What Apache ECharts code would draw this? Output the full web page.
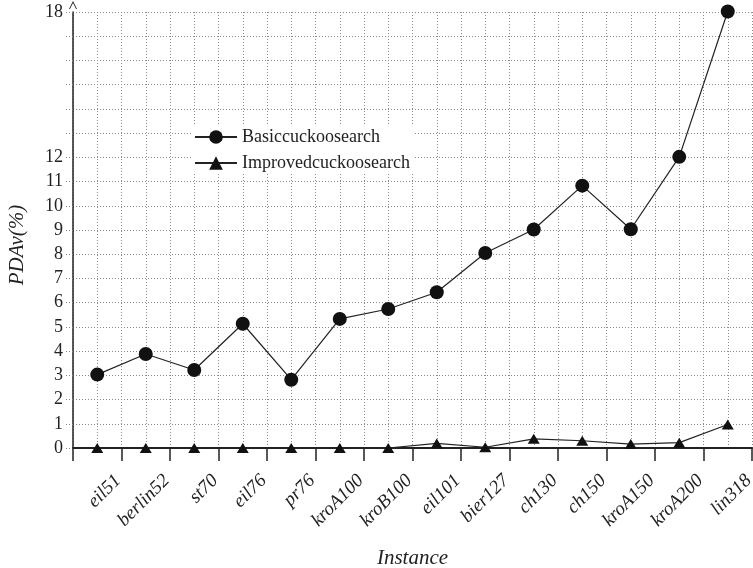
<!DOCTYPE html>
<html>
<head>
<meta charset="utf-8">
<script src="https://cdn.jsdelivr.net/npm/echarts@6/dist/echarts.min.js"></script>
<style>html,body{margin:0;padding:0;background:#fff}#c{width:753px;height:568px}</style>
</head>
<body>
<div id="c"></div>
<script>
var categories = ['eil51','berlin52','st70','eil76','pr76','kroA100','kroB100','eil101','bier127','ch130','ch150','kroA150','kroA200','lin318'];
var basicValues = [3.03, 3.88, 3.22, 5.13, 2.82, 5.33, 5.74, 6.43, 8.05, 9.02, 10.83, 9.03, 12.02, 18.02];
var improvedValues = [0, 0, 0, 0, 0, 0, 0, 0.19, 0.03, 0.38, 0.30, 0.16, 0.22, 0.97];
var yTickLabels = [0,1,2,3,4,5,6,7,8,9,10,11,12,18];
var seriesNames = ['Basiccuckoosearch', 'Improvedcuckoosearch'];

var serif = '"Liberation Serif", "DejaVu Serif", serif';
var chart = echarts.init(document.getElementById('c'));
var dotted = {color: '#8a8a8a', width: 1, type: [1, 2]};
chart.setOption({
  animation: false,
  backgroundColor: '#fff',
  grid: {left: 73, right: 1, top: 12, bottom: 120, containLabel: false, outerBoundsMode: 'none'},
  legend: {
    orient: 'vertical', left: 192, top: 126,
    itemWidth: 42, itemHeight: 17, itemGap: 8,
    backgroundColor: '#fff', padding: [2, 4, 2, 2],
    textStyle: {fontFamily: serif, fontSize: 18, color: '#222'},
    data: seriesNames
  },
  xAxis: [{
    type: 'category', data: categories, boundaryGap: true,
    axisLine: {lineStyle: {color: '#222', width: 2}},
    axisTick: {show: true, length: 13, inside: false, lineStyle: {color: '#222', width: 1.5}},
    splitLine: {show: false},
    axisLabel: {
      rotate: 45, interval: 0, margin: 9,
      fontFamily: serif, fontStyle: 'italic', fontSize: 19, color: '#222',
      verticalAlign: 'top', padding: [20, 0, 0, 0]
    },
    name: 'Instance', nameLocation: 'middle', nameGap: 100,
    nameTextStyle: {fontFamily: serif, fontStyle: 'italic', fontSize: 21, color: '#222'}
  }, {
    type: 'value', min: 0, max: 28, interval: 1, position: 'bottom',
    axisLine: {show: false}, axisTick: {show: false}, axisLabel: {show: false},
    splitLine: {show: true, lineStyle: dotted}
  }],
  yAxis: {
    type: 'value', min: 0, max: 18, interval: 1,
    axisLine: {show: true, lineStyle: {color: '#222', width: 1.5},
      symbol: ['none', 'path://M0,10 L5,0 L10,10 L8.8,10 L5,2.4 L1.2,10 Z'],
      symbolSize: [8, 8], symbolOffset: [0, 7]},
    axisTick: {show: true, length: 8, lineStyle: dotted},
    splitLine: {show: true, lineStyle: dotted},
    axisLabel: {
      fontFamily: serif, fontSize: 18, color: '#222', margin: 10,
      formatter: function (v) { return yTickLabels.indexOf(v) >= 0 ? String(v) : ''; }
    },
    name: 'PDAv(%)', nameLocation: 'middle', nameGap: 45, nameRotate: 90,
    nameTextStyle: {fontFamily: serif, fontStyle: 'italic', fontSize: 21, color: '#222', padding: [0, 30, 0, 0]}
  },
  series: [{
    name: seriesNames[0], type: 'line', data: basicValues, clip: false,
    symbol: 'circle', symbolSize: 14,
    lineStyle: {color: '#222', width: 1.2},
    itemStyle: {color: '#111', borderWidth: 0}
  }, {
    name: seriesNames[1], type: 'line', data: improvedValues, clip: false,
    symbol: 'triangle', symbolSize: [12, 10],
    lineStyle: {color: '#222', width: 1.2},
    itemStyle: {color: '#111', borderWidth: 0}
  }]
});
</script>
</body>
</html>
